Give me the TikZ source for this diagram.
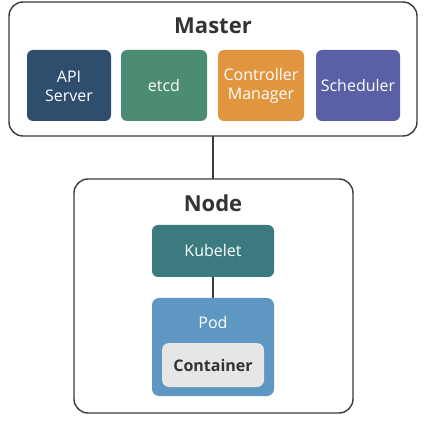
\documentclass[tikz,border=0pt]{standalone}
\usepackage{fontspec}
\setmainfont{Open Sans}
\definecolor{outl}{HTML}{3A3A3A}
\definecolor{apic}{HTML}{2F4D6C}
\definecolor{etcdc}{HTML}{4B8C72}
\definecolor{ctrlc}{HTML}{E0953E}
\definecolor{schc}{HTML}{5A5FA6}
\definecolor{kubc}{HTML}{3B7A7E}
\definecolor{podc}{HTML}{5F97C3}
\definecolor{contc}{HTML}{E6E6E6}
\definecolor{titc}{HTML}{333333}
\tikzset{
  group/.style={draw=outl, line width=1.4pt, rounded corners=14pt, fill=white},
  comp/.style={inner sep=0pt, text=white, align=center, font=\fontsize{16}{19}\selectfont},
  title/.style={text=titc, font=\fontsize{22}{24}\selectfont\bfseries},
  link/.style={draw=outl, line width=1.4pt},
}
\begin{document}
\begin{tikzpicture}[x=1pt,y=-1pt]
\useasboundingbox (0,0) rectangle (426,422);
\coordinate (mb) at (213,136);
\coordinate (nt) at (213,179);
% master
\draw[group] (9,2) rectangle (417,136);
\node[title] (master) at (213,26) {Master};
\fill[apic, rounded corners=6pt] (27,50) rectangle (111,121);
\node[comp] (api) at (69,86) {API\\Server};
\fill[etcdc, rounded corners=6pt] (121,50) rectangle (207,121);
\node[comp] (etcd) at (164,86) {etcd};
\fill[ctrlc, rounded corners=6pt] (218,50) rectangle (304,121);
\node[comp] (ctrl) at (261,86) {Controller\\Manager};
\fill[schc, rounded corners=6pt] (316,50) rectangle (400,121);
\node[comp] (sch) at (358,86) {Scheduler};
% link
\draw[link] (mb) -- (nt);
% node box
\draw[group] (74,179) rectangle (353,413);
\node[title] (nodet) at (213,203) {Node};
\fill[kubc, rounded corners=6pt] (152,225) rectangle (274,277);
\node[comp] (kub) at (213,251) {Kubelet};
\coordinate (kb) at (213,277);
\coordinate (pt) at (213,298);
\draw[link] (kb) -- (pt);
\fill[podc, rounded corners=7pt] (152,298) rectangle (274,396);
\node[comp] (pod) at (213,322) {Pod};
\fill[contc, rounded corners=7pt] (162,343) rectangle (264,387);
\node[comp, text=titc, font=\fontsize{16}{19}\selectfont\bfseries] (cont) at (213,365) {Container};
\end{tikzpicture}
\end{document}
